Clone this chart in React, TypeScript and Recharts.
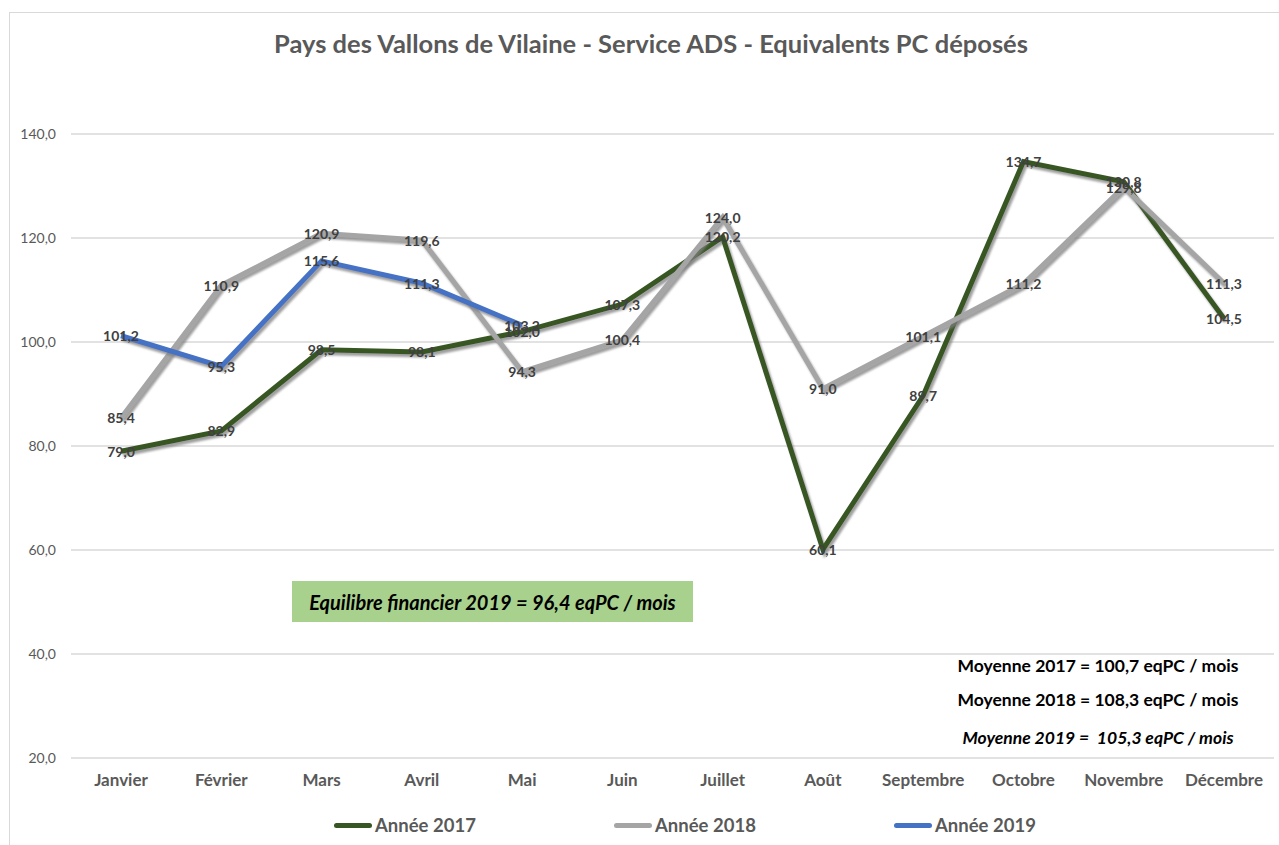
import React from 'react';
import { LineChart, Line, XAxis, YAxis, CartesianGrid, LabelList } from 'recharts';

const months = [
  'Janvier', 'Février', 'Mars', 'Avril', 'Mai', 'Juin',
  'Juillet', 'Août', 'Septembre', 'Octobre', 'Novembre', 'Décembre',
];
const annee2017 = [79.0, 82.9, 98.5, 98.1, 102.0, 107.3, 120.2, 60.1, 89.7, 134.7, 130.8, 104.5];
const annee2018 = [85.4, 110.9, 120.9, 119.6, 94.3, 100.4, 124.0, 91.0, 101.1, 111.2, 129.8, 111.3];
const annee2019 = [101.2, 95.3, 115.6, 111.3, 103.2];
const yTicks = [20, 40, 60, 80, 100, 120, 140];
const seriesNames = ['Année 2017', 'Année 2018', 'Année 2019'];
const seriesColors = ['#375623', '#a5a5a5', '#4472c4'];
const moyennes = [
  'Moyenne 2017 = 100,7 eqPC / mois',
  'Moyenne 2018 = 108,3 eqPC / mois',
  'Moyenne 2019 =  105,3 eqPC / mois',
];

const data = months.map((m, i) => ({
  mois: m,
  a2017: annee2017[i],
  a2018: annee2018[i],
  a2019: i < annee2019.length ? annee2019[i] : null,
}));

const FONT = 'Lato, "Open Sans", sans-serif';
const fmt = (v: number) => v.toFixed(1).replace('.', ',');

const PointLabel = (props: any) => {
  const { x, y, value } = props;
  if (value == null) return null;
  return (
    <text
      x={x}
      y={y}
      textAnchor="middle"
      dominantBaseline="central"
      fill="#404040"
      fontSize={14}
      fontWeight={700}
      fontFamily={FONT}
    >
      {fmt(value)}
    </text>
  );
};

export default function App() {
  const keys = ['a2017', 'a2018', 'a2019'];
  return (
    <div
      style={{
        position: 'fixed',
        left: 0,
        top: 0,
        width: 1279,
        height: 845,
        overflow: 'hidden',
        background: '#fff',
        fontFamily: FONT,
      }}
    >
      <style>{`.recharts-line-curve { filter: url(#lineShadow); }`}</style>
      <svg width={0} height={0} style={{ position: 'absolute' }}>
        <defs>
          <filter id="lineShadow" x="-10%" y="-10%" width="120%" height="120%">
            <feDropShadow dx={2} dy={3} stdDeviation={1} floodColor="#7f7f7f" floodOpacity={0.75} />
          </filter>
        </defs>
      </svg>
      <div
        style={{
          position: 'absolute',
          left: 9,
          top: 12,
          width: 1300,
          height: 900,
          border: '1px solid #d9d9d9',
        }}
      />
      <div
        style={{
          position: 'absolute',
          left: 0,
          width: 1302,
          top: 28,
          textAlign: 'center',
          fontSize: 25.5,
          fontWeight: 700,
          color: '#595959',
          whiteSpace: 'nowrap',
        }}
      >
        Pays des Vallons de Vilaine - Service ADS - Equivalents PC déposés
      </div>
      <div style={{ position: 'absolute', left: 0, top: 0 }}>
        <LineChart
          width={1279}
          height={845}
          data={data}
          margin={{ top: 134, right: 5, bottom: 57, left: 10 }}
        >
          <CartesianGrid vertical={false} stroke="#d9d9d9" strokeWidth={1.5} />
          <XAxis
            dataKey="mois"
            axisLine={false}
            tickLine={false}
            tickSize={0}
            tickMargin={16}
            height={30}
            interval={0}
            padding={{ left: 50, right: 50 }}
            tick={{ fill: '#595959', fontSize: 17, fontWeight: 700, fontFamily: FONT }}
          />
          <YAxis
            domain={[20, 140]}
            ticks={yTicks}
            width={61}
            axisLine={false}
            tickLine={false}
            tickSize={0}
            tickMargin={15}
            tickFormatter={fmt}
            tick={{ fill: '#595959', fontSize: 14, fontFamily: FONT }}
          />
          {keys.map((k, i) => (
            <Line
              key={k}
              type="linear"
              dataKey={k}
              name={seriesNames[i]}
              stroke={seriesColors[i]}
              strokeWidth={5}
              dot={false}
              activeDot={false}
              isAnimationActive={false}
            >
              <LabelList dataKey={k} content={<PointLabel />} />
            </Line>
          ))}
        </LineChart>
      </div>
      <div style={{ position: 'absolute', left: 334, top: 814, display: 'flex' }}>
        {seriesNames.map((n, i) => (
          <div key={n} style={{ width: 280, display: 'flex', alignItems: 'center' }}>
            <span
              style={{
                display: 'inline-block',
                width: 38,
                height: 5,
                borderRadius: 3,
                background: seriesColors[i],
                marginRight: 3,
              }}
            />
            <span style={{ color: '#595959', fontSize: 18.5, fontWeight: 700 }}>{n}</span>
          </div>
        ))}
      </div>
      <div
        style={{
          position: 'absolute',
          left: 292,
          top: 581,
          width: 401,
          height: 41,
          background: '#a9d18e',
          display: 'flex',
          alignItems: 'center',
          justifyContent: 'center',
          fontSize: 20,
          fontWeight: 700,
          fontStyle: 'italic',
          color: '#000',
          whiteSpace: 'nowrap',
        }}
      >
        Equilibre financier 2019 = 96,4 eqPC / mois
      </div>
      {moyennes.map((t, i) => (
        <div
          key={t}
          style={{
            position: 'absolute',
            left: 900,
            width: 396,
            top: [655, 689, 727][i],
            textAlign: 'center',
            fontSize: 17.5,
            fontWeight: 700,
            fontStyle: i === 2 ? 'italic' : 'normal',
            color: '#000',
            whiteSpace: 'pre',
          }}
        >
          {t}
        </div>
      ))}
    </div>
  );
}
